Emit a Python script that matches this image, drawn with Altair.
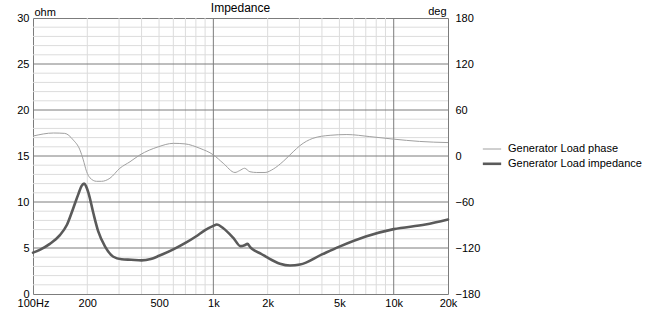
import altair as alt
import pandas as pd

# ---- data ----
imp_freq = [100, 109, 124, 141, 154, 167, 178, 186, 192, 197, 203, 216, 230, 251,
            279, 310, 350, 400, 450, 500, 600, 700, 800, 900, 1000, 1045,
            1135, 1290, 1415, 1490, 1545, 1600, 1665, 1830, 2000, 2340, 2660, 3020,
            4000, 5000, 7000, 10000, 15000, 20000]
imp_ohm = [4.5, 4.8, 5.45, 6.4, 7.5, 9.3, 10.8, 11.75, 12.0, 11.7, 11.0, 8.8, 6.8, 5.15,
           4.05, 3.78, 3.72, 3.65, 3.8, 4.15, 4.85, 5.55, 6.25, 6.95, 7.4, 7.55,
           7.15, 6.1, 5.2, 5.3, 5.45, 5.1, 4.8, 4.4, 3.95, 3.3, 3.1, 3.2, 4.3, 5.15,
           6.25, 7.05, 7.55, 8.1]

ph_freq = [100, 130, 150, 167, 182, 190, 198, 207, 225, 240, 267, 303, 345, 392, 495,
           600, 696, 842, 1000, 1135, 1318, 1400, 1490, 1594, 1740, 1935, 2150, 2440,
           2770, 3020, 3560, 4440, 5500, 7370, 10000, 13900, 20000]
ph_deg = [26, 30, 29.5, 21, 8, -5, -20, -28.5, -33, -33, -29, -16, -7.5, 1.5, 12,
          16.5, 15.8, 10, 1.5, -9.5, -21.5, -19, -16, -20.5, -21.5, -21.5, -17, -7,
          5.5, 13.5, 23, 27, 28, 25.3, 22, 19, 17.5]

x_ticks = [100, 200, 500, 1000, 2000, 5000, 10000, 20000]
minor_freqs = [200, 300, 400, 500, 600, 700, 800, 900,
               2000, 3000, 4000, 5000, 6000, 7000, 8000, 9000]
major_freqs = [1000, 10000]
minor_ohms = [v for v in range(1, 30) if v % 5 != 0]
major_ohms = [5, 10, 15, 20, 25]
ohm_ticks = [0, 5, 10, 15, 20, 25, 30]
deg_ticks = [-180, -120, -60, 0, 60, 120, 180]
series = ["Generator Load phase", "Generator Load impedance"]
chart_title = ["Impedance"]

FONT = "Liberation Sans"

imp_df = pd.DataFrame({"f": imp_freq, "ohm": imp_ohm, "s": series[1]})
ph_df = pd.DataFrame({"f": ph_freq, "deg": ph_deg, "s": series[0]})

xscale = alt.Scale(type="log", domain=[100, 20000], nice=False)
xaxis = alt.Axis(values=x_ticks,
                 labelExpr="datum.value == 100 ? '100Hz' : (datum.value >= 1000 ? (datum.value / 1000) + 'k' : datum.value + '')",
                 grid=False, domain=False, ticks=False, labelPadding=3,
                 labelFont=FONT, labelFontSize=11, labelColor="#000",
                 labelFlush=False, labelOverlap=False, title=None)

ohm_scale = alt.Scale(domain=[0, 30], nice=False, zero=False)
ohm_axis = alt.Axis(values=ohm_ticks, grid=False, domain=False, ticks=False,
                    labelPadding=4, labelFont=FONT, labelFontSize=11, labelColor="#000",
                    title="ohm", titleAngle=0, titleX=1, titleY=-3, titleAlign="left",
                    titleBaseline="alphabetic", titleFont=FONT, titleFontSize=11,
                    titleFontWeight="normal", titleColor="#000", orient="left")

deg_scale = alt.Scale(domain=[-180, 180], nice=False, zero=False)
deg_axis = alt.Axis(values=deg_ticks, grid=False, domain=False, ticks=False,
                    labelPadding=7, labelAlign="left", labelFont=FONT, labelFontSize=11,
                    labelColor="#000",
                    title="deg", titleAngle=0, titleX=-2, titleY=-4, titleAlign="right",
                    titleBaseline="alphabetic", titleFont=FONT, titleFontSize=11,
                    titleFontWeight="normal", titleColor="#000", orient="right")

legend = alt.Legend(title=None, orient="none", legendX=453, legendY=125.5,
                    symbolType="M-2,0H2", symbolSize=84, labelOffset=10, rowPadding=3.3,
                    labelFont=FONT, labelFontSize=11, labelColor="#000", padding=0)
color = alt.Color("s:N", scale=alt.Scale(domain=series, range=["#a0a0a0", "#5a5a5a"]),
                  legend=legend)
width = alt.StrokeWidth("s:N", scale=alt.Scale(domain=series, range=[1, 2.6]),
                        legend=legend)

X = alt.X("f:Q", scale=xscale, axis=xaxis)
Yo = alt.Y("ohm:Q", scale=ohm_scale, axis=ohm_axis)

minor_v = alt.Chart(pd.DataFrame({"f": minor_freqs})).mark_rule(
    color="#dcdcdc", strokeWidth=1).encode(x=X)
minor_h = alt.Chart(pd.DataFrame({"ohm": minor_ohms})).mark_rule(
    color="#dcdcdc", strokeWidth=1).encode(y=Yo)
major_h = alt.Chart(pd.DataFrame({"ohm": major_ohms})).mark_rule(
    color="#7c7c7c", strokeWidth=1).encode(y=Yo)
major_v = alt.Chart(pd.DataFrame({"f": major_freqs})).mark_rule(
    color="#7c7c7c", strokeWidth=1).encode(x=X)

imp_line = alt.Chart(imp_df).mark_line(interpolate="monotone", strokeCap="round").encode(
    x=X, y=Yo, color=color, strokeWidth=width)

ph_line = alt.Chart(ph_df).mark_line(interpolate="monotone").encode(
    x=X, y=alt.Y("deg:Q", scale=deg_scale, axis=deg_axis), color=color, strokeWidth=width)

title_text = alt.Chart(pd.DataFrame({"t": chart_title})).mark_text(
    font=FONT, fontSize=12, color="#000", align="center", baseline="alphabetic"
).encode(text="t:N", x=alt.value(207.5), y=alt.value(-6))

inner = alt.layer(minor_v, minor_h, major_h, major_v, imp_line)

chart = alt.layer(inner, ph_line, title_text).resolve_scale(y="independent").properties(
    width=415, height=276,
    autosize=alt.AutoSizeParams(type="none"),
    padding={"left": 33, "top": 18, "right": 201, "bottom": 19},
    background="white",
).configure_view(stroke="#7c7c7c", strokeWidth=1)

chart.save("out.html", embed_options={"renderer": "svg", "actions": False})
